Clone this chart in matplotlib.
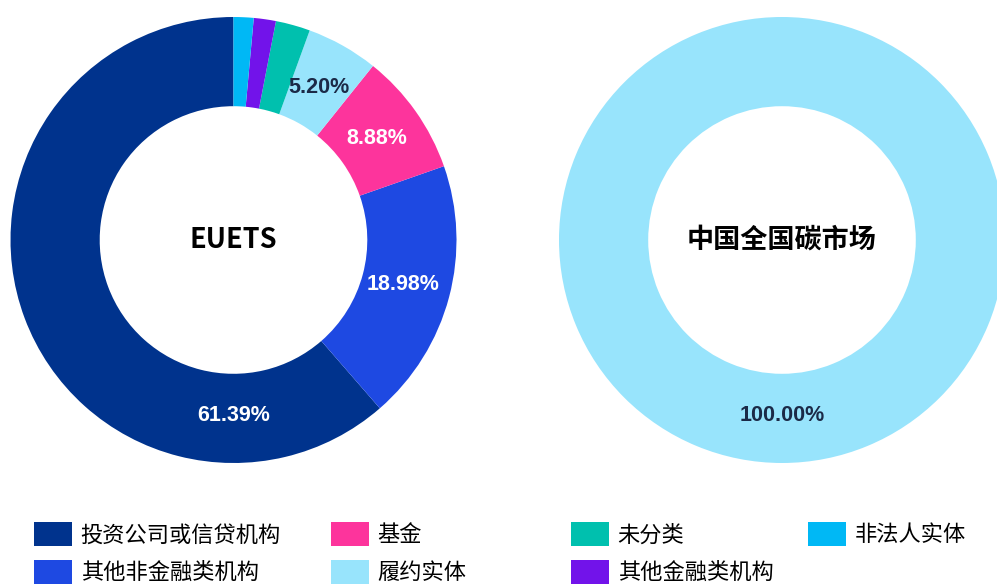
import numpy as np
import matplotlib.pyplot as plt
from matplotlib.patches import Patch

plt.rcParams['font.family'] = ['Noto Sans CJK SC', 'DejaVu Sans']

# EU ETS holder breakdown (counter-clockwise from 12 o'clock)
categories = ['投资公司或信贷机构', '其他非金融类机构', '基金', '履约实体',
              '未分类', '其他金融类机构', '非法人实体']
euets_share = [61.39, 18.98, 8.88, 5.20, 2.50, 1.60, 1.45]
china_share = [0, 0, 0, 100.00, 0, 0, 0]

colors = ['#00338D', '#1E49E2', '#FD349C', '#98E4FC', '#00C0AE', '#7213EA', '#00B8F5']
label_colors = ['white', 'white', 'white', '#1B2A47', '#1B2A47', '#1B2A47', '#1B2A47']

fig = plt.figure(figsize=(9.97, 5.86), dpi=100)
W, H = 997, 586


def donut(cx, cy, r, values, title):
    ax = fig.add_axes([(cx - r) / W, (H - cy - r) / H, 2 * r / W, 2 * r / H])
    ax.pie(values, colors=colors, startangle=90, counterclock=True,
           radius=1, wedgeprops=dict(width=0.4, linewidth=0))
    total = sum(values)
    ang = 90.0
    for k, (v, c) in enumerate(zip(values, label_colors)):
        if v == 0:
            continue
        theta = ang + 180 * v / total
        ang += 360 * v / total
        if v / total < 0.05:
            continue
        # the biggest slice gets its label at the bottom of the ring
        if v == max(values):
            theta = 270
        x = 0.785 * np.cos(np.radians(theta))
        y = 0.785 * np.sin(np.radians(theta))
        ax.text(x, y, f'{v:.2f}%', ha='center', va='center', color=c,
                fontsize=15.5, fontweight='bold', family='Liberation Sans')
    ax.text(0, 0, title, ha='center', va='center', fontsize=19.5,
            fontweight='bold', color='black')
    ax.set_xlim(-1, 1)
    ax.set_ylim(-1, 1)
    ax.set_aspect('equal')
    ax.axis('off')


donut(233.5, 240, 223, euets_share, 'EUETS')
donut(782, 240, 223, china_share, '中国全国碳市场')

# legend, 4 fixed-width columns filled column by column
col_x = [34, 331, 571, 808]
for i, x in enumerate(col_x):
    idx = [j for j in (2 * i, 2 * i + 1) if j < len(categories)]
    handles = [Patch(facecolor=colors[j], edgecolor='none') for j in idx]
    fig.legend(handles, [categories[j] for j in idx], loc='upper left',
               bbox_to_anchor=(x / W, 1 - 522 / H), frameon=False,
               fontsize=16, handlelength=1.7, handleheight=1.26,
               handletextpad=0.4, labelspacing=0.62, borderpad=0,
               borderaxespad=0)

fig.savefig('out.png', dpi=100)
